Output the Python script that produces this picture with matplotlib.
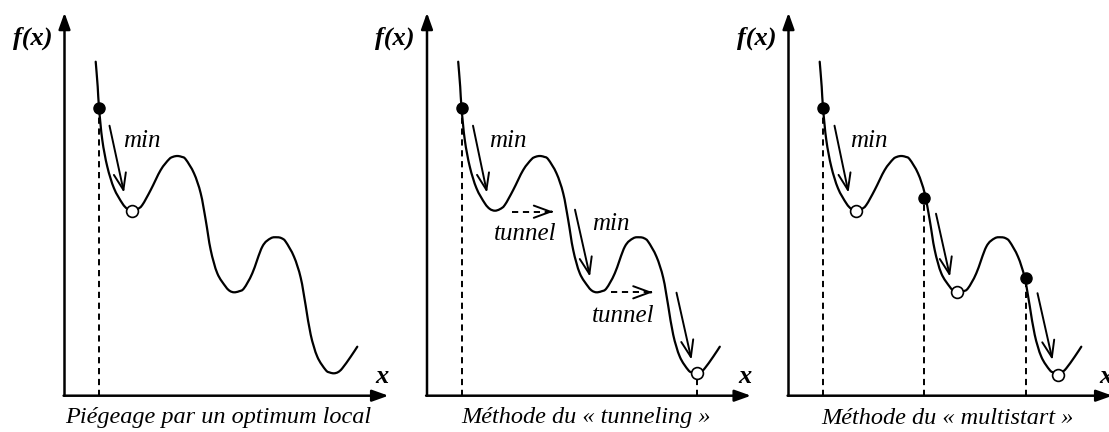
import matplotlib
matplotlib.use("Agg")
import matplotlib.pyplot as plt
from matplotlib.path import Path
from matplotlib.patches import PathPatch

# curve shape (pixels, relative to each panel's axis corner)
curve_x = [31.2, 33.2, 34.5, 37.8, 42.8, 49.5, 57.8, 62.8, 67.8, 72.8, 77.8, 86.2, 96.2,
           104.5, 108.6, 112.8, 117.0, 121.2, 129.5, 136.2, 141.2, 146.2, 152.8, 161.2,
           165.3, 169.5, 174.5, 179.5, 187.8, 197.8, 206.2, 212.8, 217.0, 221.2, 229.5,
           236.2, 241.2, 246.2, 252.8, 261.2, 265.3, 269.5, 273.6, 277.8, 286.2, 292.8]
curve_y = [334, 309, 288, 255.7, 229, 207.4, 192.4, 186.8, 185, 186.5, 190.7, 205.7, 225.7,
           236.4, 238.9, 239.7, 238.9, 236.4, 222.4, 202.4, 175.7, 145.7, 122.4, 109,
           104.8, 103.4, 104.4, 107.4, 122.4, 149, 157.4, 158.4, 157.5, 154, 139,
           118, 90, 61, 39, 25.7, 23.2, 22.4, 23.6, 27.4, 39, 49]

captions = ["Piégeage par un optimum local",
            "Méthode du « tunneling »",
            "Méthode du « multistart »"]

# starting points (filled) and minima found (open), per panel
start_pts = [[(34.5, 288)],
             [(34.5, 288)],
             [(34.5, 288), (135.0, 198), (237.0, 118)]]
found_pts = [[(67.8, 185)],
             [(269.6, 22.4)],
             [(67.8, 185), (168.0, 103.4), (269.0, 21)]]
dash_pts = [[34.5], [34.5, 269.6], [34.5, 135.0, 237.0]]

descent_arrows = [[((45.0, 270), (59.5, 203))],
                  [((46.0, 270), (60.0, 203)), ((148.0, 186), (163.0, 119)),
                   ((249.5, 103), (264.5, 36))],
                  [((46.0, 270), (60.0, 203)), ((147.5, 182), (161.5, 119)),
                   ((249.0, 102.5), (264.0, 35.7))]]
tunnel_arrows = [[], [((84.7, 184), (126.3, 184)), ((183.7, 103.4), (225.7, 103.4))], []]
min_labels = [[(77.5, 255)], [(81.3, 255), (183.7, 172)], [(80.5, 255)]]
tunnel_labels = [[], [(98.0, 162), (196.3, 80)], []]

# layout
panel_x0 = [64.5, 427.0, 788.5]
caption_x = [153.5, 159.3, 158.8]
base_py = 395.7
serif = "Liberation Serif"


def smooth_path(xs, ys):
    # Catmull-Rom through the read points, drawn as cubic Bezier segments
    pts = list(zip(xs, ys))
    verts = [pts[0]]
    codes = [Path.MOVETO]
    n = len(pts)
    for k in range(n - 1):
        p0 = pts[max(k - 1, 0)]
        p1 = pts[k]
        p2 = pts[k + 1]
        p3 = pts[min(k + 2, n - 1)]
        c1 = (p1[0] + (p2[0] - p0[0]) / 6, p1[1] + (p2[1] - p0[1]) / 6)
        c2 = (p2[0] - (p3[0] - p1[0]) / 6, p2[1] - (p3[1] - p1[1]) / 6)
        verts += [c1, c2, p2]
        codes += [Path.CURVE4] * 3
    return Path(verts, codes)


fig = plt.figure(figsize=(11.09, 4.32), dpi=100)
ax = fig.add_axes([0, 0, 1, 1])
ax.set_xlim(0, 1109)
ax.set_ylim(base_py - 432, base_py)
ax.axis("off")

axis_arrow = dict(arrowstyle="-|>,head_length=0.7,head_width=0.25", lw=1.8,
                  color="black", shrinkA=0, shrinkB=0, mutation_scale=14)
open_head = "->,head_length=0.6,head_width=0.22"

for i, x0 in enumerate(panel_x0):
    # axes with arrowheads
    ax.annotate("", xy=(x0, 383), xytext=(x0, 0), arrowprops=axis_arrow,
                annotation_clip=False)
    ax.annotate("", xy=(x0 + 324, 0), xytext=(x0 - 0.9, 0), arrowprops=axis_arrow,
                annotation_clip=False)
    ax.text(x0 - 32, 357, "f(x)", family=serif, style="italic", weight="bold",
            fontsize=19, ha="center", va="center")
    ax.text(x0 + 317.5, 19, "x", family=serif, style="italic", weight="bold",
            fontsize=19, ha="center", va="center")

    # curve
    xs = [x0 + v for v in curve_x]
    ax.add_patch(PathPatch(smooth_path(xs, curve_y), fill=False, edgecolor="black",
                           lw=1.6, capstyle="round", zorder=3))

    for dx in dash_pts[i]:
        top = [p[1] for p in start_pts[i] + found_pts[i] if abs(p[0] - dx) < 1e-6][0]
        ax.plot([x0 + dx, x0 + dx], [0, top], color="black", lw=1.4,
                dashes=(3.2, 2.4), zorder=2)

    for (sx, sy), (ex, ey) in descent_arrows[i]:
        ax.annotate("", xy=(x0 + ex, ey), xytext=(x0 + sx, sy),
                    arrowprops=dict(arrowstyle=open_head, lw=1.4, color="black",
                                    shrinkA=0, shrinkB=0, mutation_scale=20))

    for (sx, sy), (ex, ey) in tunnel_arrows[i]:
        ax.plot([x0 + sx, x0 + ex - 1], [sy, ey], color="black", lw=1.4,
                dashes=(3.2, 2.4))
        ax.annotate("", xy=(x0 + ex, ey), xytext=(x0 + ex - 2, ey),
                    arrowprops=dict(arrowstyle=open_head, lw=1.4, color="black",
                                    shrinkA=0, shrinkB=0, mutation_scale=20))

    for lx, ly in min_labels[i]:
        ax.text(x0 + lx, ly, "min", family=serif, style="italic", fontsize=18,
                ha="center", va="center")
    for lx, ly in tunnel_labels[i]:
        ax.text(x0 + lx, ly, "tunnel", family=serif, style="italic", fontsize=18,
                ha="center", va="center")

    ax.plot([x0 + p[0] for p in start_pts[i]], [p[1] for p in start_pts[i]], "o",
            color="black", ms=8, zorder=5)
    ax.plot([x0 + p[0] for p in found_pts[i]], [p[1] for p in found_pts[i]], "o",
            mfc="white", mec="black", mew=1.2, ms=8.5, zorder=5)

    ax.text(x0 + caption_x[i], base_py - 418, captions[i], family=serif,
            style="italic", fontsize=17.5, ha="center", va="center")

fig.savefig("out.png", dpi=100)
